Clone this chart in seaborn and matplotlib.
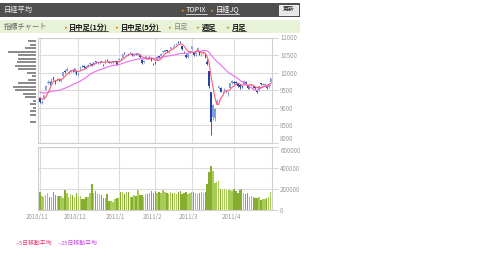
import numpy as np
import pandas as pd
import matplotlib
matplotlib.use("Agg")
import matplotlib.pyplot as plt
import seaborn as sns
from matplotlib.patches import Rectangle
from matplotlib.lines import Line2D
from matplotlib.transforms import ScaledTranslation

# ---------------- data ----------------
month_labels = ["2010/11", "2010/12", "2011/1", "2011/2", "2011/3", "2011/4"]
month_start_idx = [0, 20, 41, 60, 79, 101]

prior_closes = [9603, 9495, 9559, 9369, 9404, 9381, 9518, 9691, 9684, 9589, 9388, 9403,
                9583, 9500, 9498, 9381, 9381, 9376, 9427, 9401, 9378, 9387, 9366, 9202]

opens = [9281, 9150, 9280, 9510, 9700, 9730, 9720, 9870, 9750, 9770, 9820, 9760, 9900, 10050, 10060, 9990, 10030, 10080, 10010, 10060,
         9920, 10110, 10200, 10180, 10150, 10190, 10250, 10260, 10240, 10320, 10280, 10270, 10330, 10230, 10270, 10370, 10310, 10280, 10270, 10300, 10330,
         10350, 10390, 10430, 10560, 10500, 10530, 10560, 10540, 10470, 10530, 10540, 10510, 10370, 10290, 10390, 10430, 10410, 10420, 10250,
         10290, 10350, 10460, 10470, 10590, 10600, 10640, 10590, 10680, 10750, 10770, 10830, 10860, 10860, 10760, 10590, 10500, 10450, 10570,
         10680, 10570, 10530, 10640, 10620, 10500, 10570, 10530, 10300, 10040, 9440, 8730, 8720, 9140, 9550, 9560, 9410, 9510, 9450, 9390, 9570, 9700,
         9740, 9730, 9690, 9640, 9600, 9680, 9740, 9650, 9570, 9630, 9620, 9590, 9480, 9520, 9690, 9650, 9660, 9600, 9580, 9730]
highs = [9290, 9210, 9370, 9640, 9790, 9760, 9840, 9890, 9800, 9840, 9840, 9830, 10030, 10080, 10160, 10040, 10090, 10110, 10140, 10080,
         10010, 10180, 10220, 10210, 10180, 10250, 10300, 10270, 10310, 10340, 10320, 10330, 10340, 10260, 10380, 10390, 10330, 10310, 10310, 10360, 10340,
         10410, 10410, 10540, 10590, 10530, 10540, 10600, 10550, 10510, 10550, 10570, 10520, 10380, 10360, 10470, 10440, 10500, 10440, 10280,
         10310, 10470, 10480, 10550, 10620, 10650, 10650, 10630, 10740, 10770, 10820, 10850, 10890, 10890, 10760, 10610, 10520, 10540, 10640,
         10770, 10600, 10600, 10720, 10630, 10560, 10620, 10540, 10380, 10050, 9450, 9110, 9000, 9260, 9620, 9580, 9490, 9560, 9500, 9460, 9710, 9800,
         9770, 9750, 9720, 9660, 9640, 9790, 9760, 9660, 9660, 9680, 9640, 9600, 9500, 9620, 9720, 9700, 9700, 9620, 9700, 9860]
lows = [9150, 9120, 9260, 9500, 9690, 9660, 9710, 9790, 9690, 9760, 9770, 9740, 9890, 9980, 10040, 9950, 10010, 10020, 9990, 9930,
        9900, 10090, 10150, 10140, 10120, 10170, 10220, 10200, 10230, 10280, 10260, 10250, 10290, 10190, 10260, 10330, 10270, 10260, 10250, 10290, 10220,
        10340, 10360, 10420, 10520, 10470, 10490, 10550, 10480, 10460, 10500, 10510, 10420, 10260, 10280, 10380, 10380, 10400, 10340, 10210,
        10250, 10340, 10410, 10460, 10560, 10590, 10600, 10570, 10670, 10720, 10760, 10800, 10830, 10840, 10650, 10560, 10430, 10430, 10560,
        10640, 10460, 10480, 10610, 10490, 10460, 10540, 10420, 10230, 9570, 8230, 8640, 8620, 9120, 9530, 9440, 9370, 9470, 9420, 9330, 9560, 9680,
        9680, 9680, 9600, 9540, 9560, 9670, 9690, 9540, 9540, 9620, 9560, 9530, 9410, 9490, 9660, 9640, 9640, 9530, 9560, 9720]
closes = [9154, 9159, 9358, 9625, 9732, 9694, 9830, 9861, 9724, 9827, 9797, 9811, 10013, 10022, 10115, 10030, 10079, 10039, 10125, 9937,
          9988, 10168, 10178, 10167, 10141, 10232, 10285, 10211, 10293, 10316, 10309, 10311, 10303, 10216, 10370, 10346, 10279, 10292, 10292, 10344, 10229,
          10398, 10380, 10529, 10541, 10510, 10512, 10589, 10499, 10502, 10518, 10557, 10437, 10274, 10345, 10464, 10401, 10479, 10360, 10238,
          10274, 10457, 10431, 10543, 10592, 10636, 10617, 10606, 10725, 10746, 10808, 10836, 10842, 10858, 10665, 10579, 10453, 10527, 10624,
          10754, 10492, 10586, 10694, 10505, 10525, 10589, 10435, 10255, 9621, 8605, 9093, 8963, 9207, 9609, 9449, 9436, 9536, 9479, 9460, 9709, 9755,
          9708, 9718, 9615, 9584, 9590, 9768, 9720, 9555, 9641, 9653, 9591, 9556, 9441, 9607, 9685, 9682, 9671, 9558, 9691, 9849]
volumes = [174000, 133000, 121000, 143000, 165000, 124000, 124000, 171000, 143000, 137000, 137000, 137000, 114000, 190000, 165000, 124000, 152000, 140000, 121000, 159000,
           133000, 133000, 108000, 102000, 127000, 127000, 165000, 248000, 159000, 178000, 149000, 149000, 143000, 114000, 114000, 152000, 83000, 83000, 76000, 102000, 114000,
           114000, 168000, 168000, 152000, 175000, 171000, 127000, 127000, 143000, 137000, 190000, 143000, 143000, 121000, 152000, 152000, 159000, 184000, 159000,
           184000, 165000, 172000, 160000, 190000, 168000, 160000, 155000, 175000, 165000, 160000, 150000, 170000, 180000, 155000, 165000, 170000, 150000, 165000,
           168000, 175000, 160000, 150000, 165000, 172000, 160000, 168000, 245000, 362000, 422000, 371000, 257000, 262000, 276000, 200000, 195000, 200000, 190000, 195000, 190000, 185000,
           200000, 178000, 159000, 190000, 200000, 159000, 150000, 159000, 121000, 133000, 127000, 114000, 111000, 121000, 95000, 102000, 108000, 111000, 127000, 174000]

vp_prices = [10900, 10800, 10700, 10600, 10500, 10400, 10300, 10200, 10100, 10000, 9900, 9800,
             9700, 9600, 9500, 9400, 9300, 9200, 9100, 9000, 8900, 8800, 8600]
vp_volume = [7, 5, 10, 27, 17, 17, 18, 20, 17, 8, 3, 7, 17, 22, 20, 12, 10, 2, 5, 2, 5, 5, 5]

# ---------------- setup ----------------
sns.set_style("white")
plt.rcParams['font.family'] = ['Noto Sans CJK JP', 'DejaVu Sans']

W, H = 480, 262
fig = plt.figure(figsize=(W / 100, H / 100), dpi=100)
fig.patch.set_facecolor("white")


def R(x0, y0, x1, y1):
    return [x0 / W, 1 - y1 / H, (x1 - x0) / W, (y1 - y0) / H]


def fx(x):
    return x / W


def fy(y):
    return 1 - y / H


n = len(closes)
idx = np.arange(n)
df = pd.DataFrame({"idx": idx, "open": opens, "high": highs, "low": lows,
                   "close": closes, "volume": volumes})
allc = pd.Series(prior_closes + closes)
df["ma5"] = allc.rolling(5).mean().iloc[len(prior_closes):].values
df["ma25"] = allc.rolling(25).mean().iloc[len(prior_closes):].values
df["dir"] = np.where(df["close"] >= df["open"], "up", "down")

TXT = 5.2
TICK = 4.4

# ---------------- header bars ----------------
fig.add_artist(Rectangle((0, fy(16.5)), fx(300), 13.5 / H, transform=fig.transFigure,
                         facecolor="#4f4f4f", edgecolor="none"))
fig.add_artist(Rectangle((0, fy(33)), fx(300), 12.5 / H, transform=fig.transFigure,
                         facecolor="#e8f2d6", edgecolor="none"))
fig.add_artist(Rectangle((fx(279), fy(14.5)), fx(19), 9.5 / H, transform=fig.transFigure,
                         facecolor="#e6e6e6", edgecolor="#ffffff", lw=0.6))
fig.text(fx(288.5), fy(9.8), "更新", fontsize=4.2, color="#222222", ha="center", va="center")

fig.text(fx(4), fy(9.8), "日経平均", fontsize=TXT, color="#eeeeee", va="center")
underlined = []
bullet_col = "#f08a00"
for bx, tx, s in [(183, 186, "TOPIX"), (212, 215.5, "日経JQ")]:
    fig.text(fx(bx), fy(10.2), "▸", fontsize=3.8, color=bullet_col, va="center", ha="center",
             family=["DejaVu Sans"])
    t = fig.text(fx(tx), fy(9.8), s, fontsize=TXT, color="#ffffff", va="center")
    underlined.append((t, "#ffffff"))

fig.text(fx(4), fy(27), "指標チャート", fontsize=TXT, color="#666666", va="center")
for bx, tx, s, link in [(66, 69, "日中足(1分)", True), (117, 121, "日中足(5分)", True),
                        (170, 173.5, "日足", False), (198, 201.5, "週足", True), (228, 231.5, "月足", True)]:
    fig.text(fx(bx), fy(27.4), "▸", fontsize=3.8, color=bullet_col, va="center", ha="center",
             family=["DejaVu Sans"])
    t = fig.text(fx(tx), fy(27), s, fontsize=TXT, va="center",
                 color="#111111" if link else "#888888",
                 fontweight="bold" if link else "normal")
    if link:
        underlined.append((t, "#111111"))

# ---------------- price axes ----------------
grid_col = "#dcdcdc"
tick_col = "#999999"
ax = fig.add_axes(R(38, 37.5, 272.5, 143))
ax.set_xlim(-1, n)
ax.set_ylim(8000, 11000)

up_col, dn_col = "#7f9edb", "#23449c"
cols = np.where(df["dir"] == "up", up_col, dn_col)
ax.vlines(df["idx"], df["low"], df["high"], colors=cols, lw=0.6, zorder=3)
body_bottom = np.minimum(df["open"], df["close"])
body_h = np.maximum(np.abs(df["close"] - df["open"]), 12)
ax.bar(df["idx"], body_h, bottom=body_bottom, width=0.75, color=cols, lw=0, zorder=4)

sns.lineplot(data=df, x="idx", y="ma25", ax=ax, color="#ea6cf0", lw=0.8, zorder=5)
sns.lineplot(data=df, x="idx", y="ma5", ax=ax, color="#ff5a7a", lw=0.8, zorder=6)

ax.set_yticks([8000, 8500, 9000, 9500, 10000, 10500, 11000])
ax.set_yticklabels(["8000", "8500", "9000", "9500", "10000", "10500", "11000"])
ax.yaxis.tick_right()
ax.set_xticks(month_start_idx)
ax.set_xticklabels([])
ax.grid(True, color=grid_col, lw=0.8)
ax.set_xlabel("")
ax.set_ylabel("")
ax.tick_params(axis="y", right=True, length=4, width=0.6, color="#cccccc",
               labelsize=TICK, labelcolor=tick_col, pad=1.5)
ax.tick_params(axis="x", bottom=False, length=0)
for sp in ax.spines.values():
    sp.set_color("#cfcfcf")
    sp.set_linewidth(0.8)
# lowest price label sits just above the volume label below it
ax.get_yticklabels()[0].set_va("bottom")

# ---------------- volume by price (left) ----------------
axp = fig.add_axes(R(5, 37.5, 35.5, 143))
axp.set_ylim(8000, 11000)
axp.barh(vp_prices, vp_volume, height=55, color="#8c8c8c", lw=0)
axp.set_xlim(30, 0)
axp.axis("off")

# ---------------- volume axes ----------------
axv = fig.add_axes(R(38, 147, 272.5, 210))
sns.barplot(data=df, x="idx", y="volume", hue="dir", native_scale=True, ax=axv,
            palette={"up": "#a8cc58", "down": "#86ad30"}, dodge=False, legend=False,
            width=0.75, linewidth=0, saturation=1)
axv.set_xlim(-1, n)
axv.set_ylim(0, 600000)
axv.set_yticks([0, 200000, 400000, 600000])
axv.set_yticklabels(["0", "200000", "400000", "600000"])
axv.yaxis.tick_right()
axv.set_xticks(month_start_idx)
axv.set_xticklabels(month_labels)
axv.grid(True, color=grid_col, lw=0.8)
axv.set_axisbelow(True)
axv.set_xlabel("")
axv.set_ylabel("")
axv.tick_params(axis="y", right=True, length=4, width=0.6, color="#cccccc",
                labelsize=TICK, labelcolor=tick_col, pad=1.5)
axv.tick_params(axis="x", bottom=False, length=0, labelsize=TICK, labelcolor=tick_col, pad=2)
off = ScaledTranslation(-3 / 100, 0, fig.dpi_scale_trans)
for lab in axv.get_xticklabels():
    lab.set_transform(lab.get_transform() + off)
axv.get_yticklabels()[-1].set_va("top")
for sp in axv.spines.values():
    sp.set_color("#cfcfcf")
    sp.set_linewidth(0.8)

# ---------------- legend text ----------------
LEG = 4.2
fig.text(fx(16), fy(243), "--5日移動平均", fontsize=LEG, color="#e8336f", va="center")
fig.text(fx(58), fy(243), "--25日移動平均", fontsize=LEG, color="#c844ee", va="center")

# ---------------- underline links ----------------
fig.canvas.draw()
rend = fig.canvas.get_renderer()
for t, c in underlined:
    bb = t.get_window_extent(rend)
    fig.add_artist(Line2D([bb.x0 / W, bb.x1 / W], [(bb.y0 - 0.2) / H, (bb.y0 - 0.2) / H],
                          transform=fig.transFigure, color=c, lw=0.5))

fig.savefig("out.png", dpi=100)
